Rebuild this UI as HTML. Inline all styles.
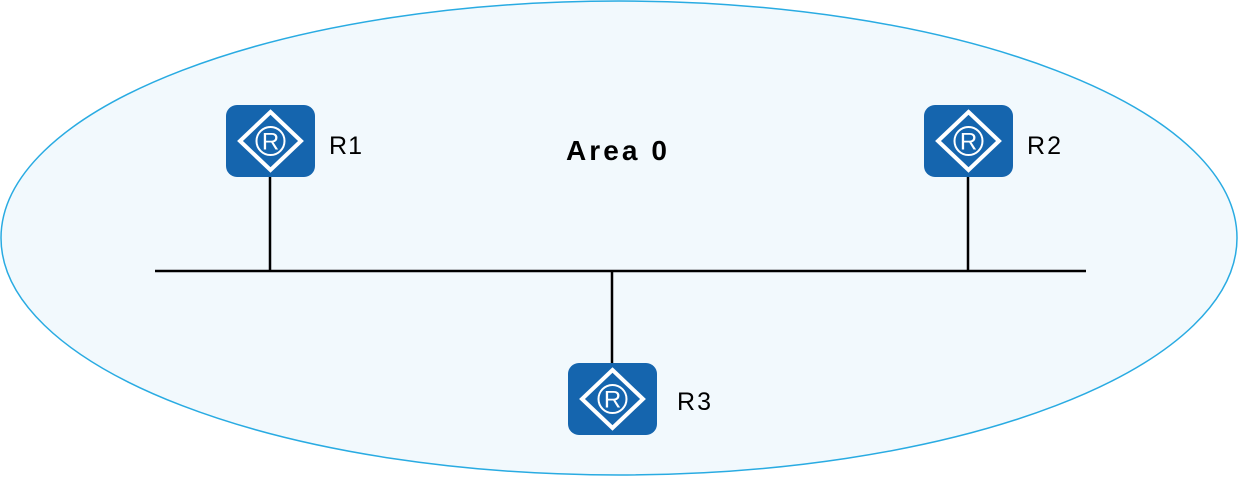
<!DOCTYPE html>
<html><head><style>body{margin:0;background:#fff}svg{display:block}</style></head><body>
<svg width="1239" height="477" viewBox="0 0 1239 477" xmlns="http://www.w3.org/2000/svg">
<defs>
<g id="rt">
<rect x="0" y="0" width="89" height="72" rx="11" fill="#1565ae"/>
<polygon points="44.5,7 75,36 44.5,65 14,36" fill="none" stroke="#fff" stroke-width="4"/>
<circle cx="44.5" cy="36" r="14" fill="none" stroke="#fff" stroke-width="2"/>
<text x="44.5" y="44.5" font-family="Liberation Sans, sans-serif" font-size="24" fill="#fff" text-anchor="middle">R</text>
</g>
</defs>
<ellipse cx="619" cy="238" rx="618" ry="237" fill="#f2f9fd" stroke="#29abe2" stroke-width="1.5"/>
<line x1="155" y1="271" x2="1086" y2="271" stroke="#000" stroke-width="2.5"/>
<line x1="270" y1="177" x2="270" y2="271" stroke="#000" stroke-width="2.5"/>
<line x1="968" y1="177" x2="968" y2="271" stroke="#000" stroke-width="2.5"/>
<line x1="612" y1="271" x2="612" y2="364" stroke="#000" stroke-width="2.5"/>
<use href="#rt" x="226" y="105"/>
<use href="#rt" x="924" y="105"/>
<use href="#rt" x="568" y="363"/>
<g font-family="Liberation Sans, sans-serif" font-size="25" fill="#000">
<text x="329" y="154" textLength="33">R1</text>
<text x="1027" y="154" textLength="34">R2</text>
<text x="677" y="410" textLength="34">R3</text>
<text x="566" y="160" font-weight="bold" font-size="28" textLength="101">Area 0</text>
</g>
</svg>
</body></html>
